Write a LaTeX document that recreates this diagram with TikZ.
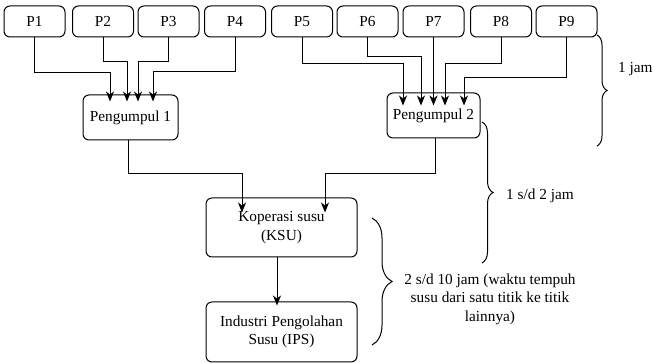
\documentclass[tikz,border=0pt]{standalone}
\usepackage{fontspec}
\setmainfont{Liberation Serif}
\usetikzlibrary{arrows.meta,decorations.pathreplacing,calc}
\begin{document}
\begin{tikzpicture}[x=1pt,y=-1pt,
  font=\rmfamily\fontsize{15.3}{18.5}\selectfont,
  box/.style={draw,line width=1pt,rounded corners=6pt,inner sep=0pt,align=center},
  pbox/.style={box,minimum width=61pt,minimum height=31pt},
  arr/.style={draw,line width=1pt,-{Stealth[length=10pt,width=8pt,inset=3pt]}},
  brc/.style={draw,line width=1pt,decorate,decoration={brace,amplitude=#1}},
  lbl/.style={inner sep=0pt,align=center}]
\useasboundingbox (0,0) rectangle (654,363);
% top boxes
\node[pbox] (p1) at (34.5,21.5) {P1};
\node[pbox] (p2) at (103,21.5) {P2};
\node[pbox] (p3) at (168.5,21.5) {P3};
\node[pbox] (p4) at (235,21.5) {P4};
\node[pbox] (p5) at (302,21.5) {P5};
\node[pbox] (p6) at (367.5,21.5) {P6};
\node[pbox] (p7) at (433.5,21.5) {P7};
\node[pbox] (p8) at (501,21.5) {P8};
\node[pbox] (p9) at (566.5,21.5) {P9};
% collectors
\node[box,minimum width=95pt,minimum height=45pt] (g1) at (130.5,117.5) {Pengumpul 1};
\node[box,minimum width=93pt,minimum height=45pt] (g2) at (433.5,115.5) {Pengumpul 2};
\node[box,minimum width=151pt,minimum height=59pt] (ksu) at (281.5,227.5) {Koperasi susu\\(KSU)};
\node[box,minimum width=151pt,minimum height=60pt] (ips) at (281.5,332) {Industri Pengolahan\\Susu (IPS)};
% arrows to Pengumpul 1
\draw[arr,shorten >=-7pt] (p1.south) -- ++(0,35) -| ([xshift=-20.5pt]g1.north);
\draw[arr,shorten >=-7pt] (p2.south) -- ++(0,24) -| ([xshift=-3.5pt]g1.north);
\draw[arr,shorten >=-7pt] (p3.south) -- ++(0,24) -| ([xshift=7.5pt]g1.north);
\draw[arr,shorten >=-7pt] (p4.south) -- ++(0,34) -| ([xshift=22.5pt]g1.north);
% arrows to Pengumpul 2
\draw[arr,shorten >=-13pt] (p5.south) -- ++(0,26) -| ([xshift=-30.5pt]g2.north);
\draw[arr,shorten >=-13pt] (p6.south) -- ++(0,19) -| ([xshift=-12.5pt]g2.north);
\draw[arr,shorten >=-13pt] (p7.south) -- (g2.north -| p7.south);
\draw[arr,shorten >=-13pt] (p8.south) -- ++(0,26) -| ([xshift=11.5pt]g2.north);
\draw[arr,shorten >=-13pt] (p9.south) -- ++(0,40) -| ([xshift=30.5pt]g2.north);
% to KSU
\draw[arr,shorten >=-15pt] ([xshift=-2.5pt]g1.south) -- ++(0,33) -| ([xshift=-39.5pt]ksu.north);
\draw[arr,shorten >=-15pt] ([xshift=1.5pt]g2.south) -- ++(0,35) -| ([xshift=43.5pt]ksu.north);
% to IPS
\draw[arr,shorten >=-4pt] ([xshift=-4.5pt]ksu.south) -- ([xshift=-4.5pt]ips.north);
% braces
\coordinate (b1a) at (597,35);
\coordinate (b1b) at (597,146);
\draw[brc=10pt] (b1a) -- (b1b);
\node[lbl,anchor=west] (t1) at (618,69) {1 jam};
\coordinate (b2a) at (482,122);
\coordinate (b2b) at (482,263);
\draw[brc=11pt] (b2a) -- (b2b);
\node[lbl,anchor=west] (t2) at (506,196) {1 s/d 2 jam};
\coordinate (b3a) at (372,218);
\coordinate (b3b) at (372,345);
\draw[brc=20pt] (b3a) -- (b3b);
\node[lbl] (t3) at (490,299) {2 s/d 10 jam (waktu tempuh\\susu dari satu titik ke titik\\lainnya)};
\end{tikzpicture}
\end{document}
